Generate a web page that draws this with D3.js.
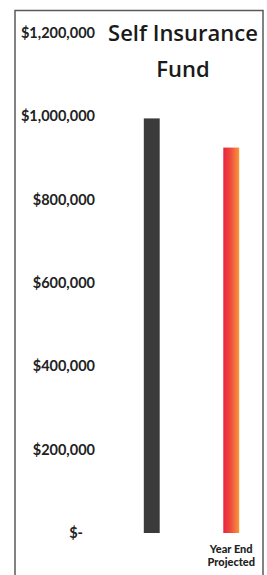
<!DOCTYPE html>
<html>
<head>
<meta charset="utf-8">
<script src="https://cdn.jsdelivr.net/npm/d3@7"></script>
<style>
  html, body { margin: 0; padding: 0; background: #fff; }
  svg { display: block; }
</style>
</head>
<body>
<div id="chart"></div>
<script>
// chart data
const categories = ['', 'Year End Projected'];
const values = [995000, 925000];
const tickValues = [0, 200000, 400000, 600000, 800000, 1000000, 1200000];
const titleLines = ['Self Insurance', 'Fund'];

const width = 267;
const height = 575;

const svg = d3.select('#chart')
  .append('svg')
  .attr('width', width)
  .attr('height', height);

// gradient for the projected bar
const defs = svg.append('defs');
const grad = defs.append('linearGradient')
  .attr('id', 'projGrad')
  .attr('x1', '0%').attr('y1', '0%')
  .attr('x2', '100%').attr('y2', '0%');
grad.append('stop').attr('offset', '0%').attr('stop-color', '#e6253f');
grad.append('stop').attr('offset', '45%').attr('stop-color', '#ee4a3c');
grad.append('stop').attr('offset', '100%').attr('stop-color', '#f8973a');

// frame
svg.append('path')
  .attr('d', 'M15,' + height + 'V10.5H263V' + height)
  .attr('fill', 'none')
  .attr('stroke', '#5a5a5a')
  .attr('stroke-width', 1.5);

const y = d3.scaleLinear()
  .domain([0, 1200000])
  .range([533, 33]);

const x = d3.scaleBand()
  .domain(categories)
  .range([112, 271])
  .paddingInner(0.8)
  .paddingOuter(0.4);

const fmt = (d) => d === 0 ? '$-' : '$' + d3.format(',')(d);

const yAxis = svg.append('g')
  .attr('transform', 'translate(95,0)')
  .call(d3.axisLeft(y).tickValues(tickValues).tickFormat(fmt).tickSize(0).tickPadding(0));
yAxis.select('.domain').remove();
yAxis.selectAll('text')
  .attr('font-family', 'Lato, sans-serif')
  .attr('font-weight', 700)
  .attr('font-size', 14.5)
  .attr('fill', '#222')
  .attr('dx', (d) => d === 0 ? -12 : 0);

// bars
svg.append('g')
  .selectAll('rect')
  .data(values)
  .join('rect')
  .attr('x', (d, i) => x(categories[i]))
  .attr('y', (d) => y(d))
  .attr('width', x.bandwidth())
  .attr('height', (d) => y(0) - y(d))
  .attr('fill', (d, i) => i === 0 ? '#3b3b3b' : 'url(#projGrad)');

// category labels
const catLabels = svg.append('g')
  .selectAll('text')
  .data(categories)
  .join('text')
  .attr('x', (d) => x(d) + x.bandwidth() / 2)
  .attr('y', 553)
  .attr('text-anchor', 'middle')
  .attr('font-family', 'Lato, sans-serif')
  .attr('font-weight', 900)
  .attr('font-size', 11)
  .attr('fill', '#222');
catLabels.each(function (d) {
  const words = d.split(' ');
  if (!d) return;
  const lines = [words.slice(0, 2).join(' '), words.slice(2).join(' ')];
  d3.select(this).selectAll('tspan')
    .data(lines)
    .join('tspan')
    .attr('x', x(d) + x.bandwidth() / 2)
    .attr('dy', (l, i) => i === 0 ? 0 : 13)
    .text((l) => l);
});

// title
svg.append('text')
  .attr('x', 183)
  .attr('y', 41)
  .attr('text-anchor', 'middle')
  .attr('font-family', '"Open Sans", sans-serif')
  .attr('font-weight', 600)
  .attr('font-size', 22)
  .attr('fill', '#1a1a1a')
  .selectAll('tspan')
  .data(titleLines)
  .join('tspan')
  .attr('x', 183)
  .attr('dy', (d, i) => i === 0 ? 0 : 36)
  .text((d) => d);
</script>
</body>
</html>
